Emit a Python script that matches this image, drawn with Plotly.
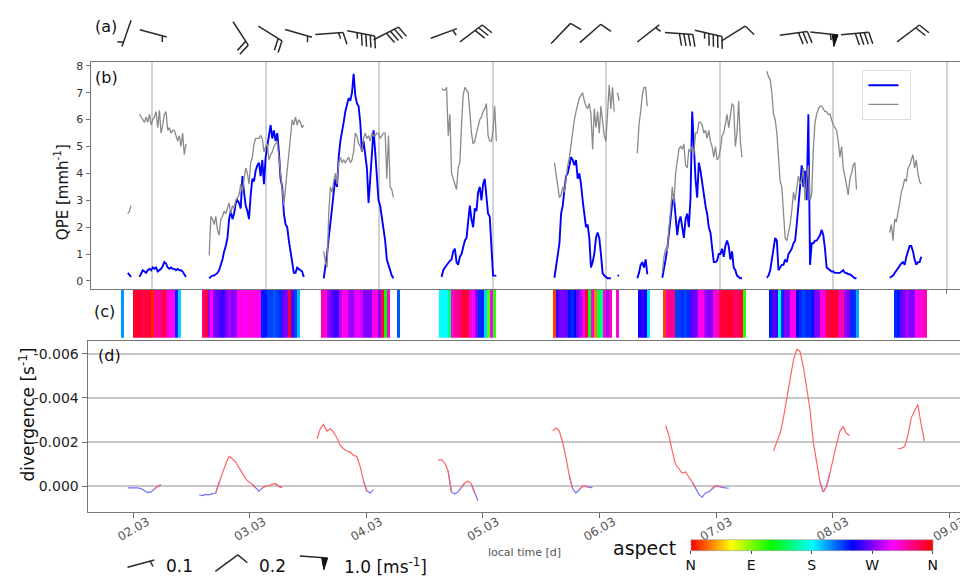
import math
import plotly.graph_objects as go

W, H = 968, 577
OX, OY = 8, 8   # the page body margin shifts the figure by 8 px


def px(X):
    return (X - OX) / W


def py(Y):
    return 1 - (Y - OY) / H


# ---------------- tick labels ----------------
day_ticks = [2, 3, 4, 5, 6, 7, 8, 9]
day_labels = ["02.03", "03.03", "04.03", "05.03", "06.03", "07.03", "08.03", "09.03"]

# ---------------- panel (b): QPE (blue) and reference (grey) ----------------
QPE_STEP = 0.01462  # days between samples
qpe_starts = [1.786, 1.889, 2.503, 3.512, 4.550, 5.544, 6.099, 6.274, 6.494, 7.415, 8.497]

qpe_1a = [0.3, 0.22, 0.15]
qpe_1b = [0.15, 0.3, 0.4, 0.35, 0.3, 0.4, 0.45, 0.4, 0.5, 0.45, 0.5, 0.35, 0.4, 0.45, 0.55,
          0.7, 0.65, 0.5, 0.45, 0.5, 0.45, 0.45, 0.4, 0.45, 0.4, 0.4, 0.35, 0.25, 0.15]
qpe_2 = [0.1, 0.15, 0.2, 0.2, 0.25, 0.3, 0.4, 0.6, 0.8, 1.1,
         1.3, 1.6, 2.3, 2.6, 2.3, 2.5, 2.9, 3.0, 2.9, 2.7,
         3.9, 3.3, 2.8, 2.6, 2.3, 3.2, 3.8, 3.7, 4.1, 4.3,
         4.4, 3.9, 4.5, 3.6, 4.6, 5.0, 5.4, 5.8, 5.3, 5.6,
         5.2, 5.5, 4.8, 3.8, 3.5, 2.5, 2.1, 2.0, 1.5, 1.0,
         0.7, 0.3, 0.3, 0.5, 0.45, 0.4, 0.35, 0.15]
qpe_3 = [0.1, 0.5, 1.0, 1.6, 2.3, 2.7, 3.3, 3.8, 3.5, 4.6,
         5.2, 5.5, 5.9, 6.3, 6.6, 6.8, 6.7, 7.0, 7.7, 6.9,
         6.6, 6.5, 5.9, 4.8, 5.2, 4.6, 4.2, 2.9, 3.8, 4.8,
         5.6, 4.8, 3.9, 3.0, 2.8, 2.4, 2.0, 1.5, 0.8, 0.6,
         0.4, 0.2, 0.1]
qpe_4 = [0.15, 0.4, 0.5, 0.6, 0.7, 0.75, 0.8, 1.1, 1.2, 0.7,
         0.6, 0.9, 1.0, 1.3, 1.5, 1.6, 2.2, 2.8, 2.3, 2.0,
         2.7, 2.6, 3.3, 3.5, 3.0, 3.6, 3.8, 3.1, 2.5, 2.4,
         1.4, 0.2, 0.2, 0.2]
qpe_5 = [0.12, 0.5, 0.9, 1.4, 2.5, 2.8, 3.4, 3.9, 4.0, 4.3,
         4.6, 4.5, 4.3, 4.5, 3.8, 4.0, 3.6, 3.0, 2.4, 2.0,
         2.1, 1.6, 0.5, 0.7, 1.0, 1.6, 1.8, 1.6, 1.0, 0.3,
         0.2, 0.15, 0.1, 0.1, 0.1]
qpe_5b = [0.2, 0.2]
qpe_6 = [0.1, 0.3, 0.6, 0.7, 0.5, 0.8, 0.25]
qpe_7 = [0.12, 0.4, 0.8, 1.2, 1.7, 2.3, 2.9, 3.1, 2.5, 1.7,
         2.2, 2.4, 2.0, 1.6, 2.3, 2.5, 2.0, 3.1, 6.3, 5.0,
         3.8, 3.1, 4.4, 4.1, 3.6, 3.3, 2.8, 2.5, 2.0, 1.8,
         1.2, 0.7, 0.7, 0.75, 1.0, 1.0, 1.2, 0.9, 1.3, 1.5,
         1.3, 0.8, 1.1, 0.5, 0.4, 0.2, 0.15, 0.1, 0.1]
qpe_8 = [0.12, 0.2, 0.4, 0.8, 1.2, 1.6, 1.5, 0.4, 0.5, 0.6,
         0.6, 0.8, 0.7, 1.0, 1.1, 1.2, 1.4, 1.5, 2.1, 3.0,
         3.5, 4.3, 3.5, 4.1, 3.0, 6.2, 0.6, 1.4, 1.4, 1.5,
         1.5, 1.6, 1.7, 1.9, 1.7, 1.2, 0.5, 0.45, 0.4, 0.35,
         0.35, 0.3, 0.3, 0.3, 0.3, 0.35, 0.4, 0.3, 0.3, 0.25,
         0.25, 0.2, 0.15, 0.1, 0.1]
qpe_9 = [0.12, 0.15, 0.2, 0.3, 0.4, 0.5, 0.6, 0.65, 0.7, 0.6,
         0.9, 1.1, 1.3, 1.3, 1.1, 0.8, 0.6, 0.7, 0.7, 0.9]

ref_1a = [2.5, 2.6, 2.8]
ref_1b = [6.2, 6.1, 6.0, 5.9, 6.1, 5.9, 6.2, 5.8, 6.0, 6.1, 6.3, 5.7, 6.35, 5.5, 5.8,
          6.2, 6.3, 5.6, 5.7, 5.5, 5.6, 5.6, 5.4, 5.2, 5.4, 5.0, 5.5, 4.7, 5.1]
ref_2 = [0.95, 2.4, 2.3, 2.1, 2.4, 1.9, 1.7, 2.3, 2.4, 2.6,
         2.5, 2.7, 2.9, 2.5, 2.8, 2.7, 3.0, 3.1, 3.2, 3.6,
         3.3, 3.8, 4.2, 4.0, 3.6, 4.4, 4.6, 5.1, 5.3, 5.3,
         5.3, 5.4, 5.3, 4.8, 5.0, 5.1, 4.5, 4.7, 4.8, 5.0,
         5.1, 5.2, 4.6, 3.9, 3.2, 2.8, 3.5, 4.2, 4.8, 5.5,
         6.0, 5.8, 6.1, 5.8, 6.0, 5.9, 5.7, 5.8]
ref_3 = [1.1, 0.7, 0.5, 2.5, 3.5, 3.3, 3.7, 4.0, 3.6, 4.4,
         4.6, 4.4, 4.5, 4.4, 4.5, 4.6, 4.4, 4.5, 4.8, 5.5,
         5.4, 5.1, 5.0, 4.8, 5.3, 5.5, 5.3, 5.4, 5.2, 5.5,
         5.4, 5.4, 5.5, 5.5, 5.3, 5.4, 5.5, 5.5, 3.8, 5.4,
         3.5, 3.4, 3.1]
ref_4 = [7.15, 7.1, 7.1, 7.2, 5.4, 6.2, 4.0, 3.8, 3.6, 3.4,
         4.2, 4.4, 5.8, 6.9, 7.2, 7.1, 7.0, 6.3, 5.5, 5.1,
         5.2, 5.5, 5.8, 6.0, 6.1, 6.3, 6.4, 6.6, 5.4, 5.2,
         5.2, 5.6, 6.5, 5.2]
ref_5 = [4.4, 3.9, 3.4, 3.1, 3.2, 3.5, 3.3, 3.9, 4.3, 4.6,
         5.1, 5.6, 6.0, 6.3, 6.6, 6.8, 6.9, 7.0, 6.7, 6.5,
         6.4, 6.6, 6.2, 4.9, 6.4, 5.7, 6.3, 5.5, 6.5, 6.0,
         5.4, 5.2, 6.3, 7.3, 6.4, 7.2, 6.3]
ref_5b = [7.0, 6.7]
ref_6 = [4.75, 5.8, 6.3, 6.9, 7.2, 7.2, 6.5]
ref_7 = [0.3, 0.9, 1.2, 1.1, 2.0, 2.6, 3.5, 2.9, 4.0, 4.4,
         4.9, 5.0, 4.9, 5.1, 4.3, 4.2, 4.9, 4.8, 5.0, 4.7,
         5.5, 5.5, 5.9, 5.9, 5.8, 5.5, 5.6, 5.3, 5.6, 5.2,
         5.0, 4.6, 5.0, 4.5, 4.6, 4.9, 5.4, 5.5, 5.9, 6.2,
         5.7, 6.2, 6.6, 6.5, 5.0, 5.5, 6.7, 5.2, 4.6]
ref_8 = [7.8, 7.6, 7.5, 7.0, 6.2, 6.0, 5.5, 4.7, 3.7, 3.5,
         2.7, 1.6, 1.5, 1.8, 2.1, 2.6, 3.3, 3.0, 3.4, 3.9,
         3.6, 3.8, 4.2, 3.0, 3.8, 4.3, 3.0, 3.2, 4.9, 5.9,
         6.2, 6.4, 6.5, 6.5, 6.4, 6.3, 6.3, 6.2, 6.2, 6.0,
         5.8, 5.7, 5.6, 5.2, 4.6, 5.0, 4.2, 3.9, 3.6, 3.2,
         3.8, 4.0, 4.3, 4.4, 3.4]
ref_9 = [1.8, 2.1, 1.5, 2.3, 2.2, 2.5, 2.9, 3.3, 3.5, 3.8,
         3.7, 4.2, 4.3, 4.5, 4.7, 4.2, 4.5, 4.0, 3.7, 3.6]

qpe_segments = [qpe_1a, qpe_1b, qpe_2, qpe_3, qpe_4, qpe_5, qpe_5b, qpe_6, qpe_7, qpe_8, qpe_9]
ref_segments = [ref_1a, ref_1b, ref_2, ref_3, ref_4, ref_5, ref_5b, ref_6, ref_7, ref_8, ref_9]

# ---------------- panel (c): aspect strip [deg] ----------------
ASP_STEP = 0.02632
asp_starts = [1.737, 1.840, 2.4456, 3.4982, 4.169, 4.5377, 5.5377, 6.0947, 6.2877, 6.5070, 7.4456, 8.5421]
asp_1 = [205]
asp_2 = [348, 348, 350, 340, 348, 348, 8, 325, 325, 330, 345, 315, 300, 300, 230, 190]
asp_3 = [330, 348, 275, 300, 270, 265, 255, 255, 270, 280, 270, 275, 305, 305, 300, 305, 310,
         305, 305, 300, 235, 235, 225, 225, 220, 225, 230, 265, 270, 348, 255, 225, 195]
asp_4 = [315, 310, 275, 265, 255, 255, 285, 305, 305, 280, 275, 295, 295, 290, 270, 270, 270,
         305, 305, 270, 345, 120, 310]
asp_5 = [220]
asp_6 = [180, 180, 180, 150, 310, 325, 325, 340, 346, 348, 310, 300, 270, 230, 230, 190, 100, 300, 110]
asp_7 = [15, 255, 268, 268, 265, 235, 230, 240, 265, 280, 305, 346, 130, 310, 30, 140, 150, 310, 280, 315]
asp_8 = [310]
asp_9 = [245, 250, 240, 185]
asp_10 = [15, 320, 330, 330, 225, 225, 230, 225, 230, 260, 265, 270, 305, 305, 280, 270, 270,
          310, 310, 346, 346, 348, 350, 346, 335, 340, 346, 110]
asp_11 = [235, 260, 255, 170, 230, 270, 270, 305, 305, 240, 230, 225, 230, 230, 235, 270, 270,
          310, 310, 342, 346, 348, 348, 320, 320, 275, 270, 230, 230, 200]
asp_12 = [230, 235, 265, 270, 280, 270, 270, 300, 310, 310, 315]
asp_segments = [asp_1, asp_2, asp_3, asp_4, asp_5, asp_6, asp_7, asp_8, asp_9, asp_10, asp_11, asp_12]

# ---------------- panel (d): divergence [1e-3 s-1] ----------------
DIV_STEP = 0.02849
div_starts = [1.951, 2.564, 3.575, 4.615, 5.598, 6.567, 7.493, 8.561]
div_1 = [0.07, 0.07, 0.06, 0.07, 0.1, 0.2, 0.28, 0.25, 0.13, 0.0, -0.07]
div_2 = [0.38, 0.42, 0.36, 0.38, 0.33, 0.3, -0.2, -0.6, -1.0, -1.35, -1.25, -1.1, -0.85,
         -0.6, -0.35, -0.2, -0.1, 0.08, 0.22, 0.08, -0.02, -0.02, -0.1, -0.12, 0.0, 0.05]
div_3 = [-2.15, -2.6, -2.8, -2.5, -2.6, -2.45, -2.2, -1.85, -1.7, -1.6, -1.55, -1.4, -1.35,
         -0.9, -0.25, 0.2, 0.3, 0.15]
div_4 = [-1.2, -1.2, -1.05, -0.7, 0.25, 0.35, 0.25, 0.05, -0.15, -0.24, -0.1, 0.3, 0.65]
div_5 = [-2.5, -2.65, -2.5, -2.0, -1.3, -0.5, 0.1, 0.3, 0.15, 0.0, 0.0, 0.05, 0.07]
div_6 = [-2.75, -2.3, -1.6, -1.0, -0.8, -0.6, -0.65, -0.45, -0.2, 0.05, 0.35, 0.5, 0.3,
         0.25, 0.1, -0.02, 0.0, 0.05, 0.07, 0.08]
div_7 = [-1.6, -2.0, -2.4, -3.1, -4.0, -4.8, -5.7, -6.2, -6.1, -5.4, -4.5, -3.5, -2.0,
         -1.0, -0.2, 0.25, 0.0, -0.6, -1.3, -1.9, -2.5, -2.7, -2.4, -2.3]
div_8 = [-1.7, -1.72, -1.8, -2.3, -3.1, -3.4, -3.7, -2.8, -2.05]
div_segments = [div_1, div_2, div_3, div_4, div_5, div_6, div_7, div_8]

# ---------------- panel (a): wind barbs ----------------
barb_time = [1.775, 2.01, 2.78, 3.04, 3.29, 3.56, 3.84, 4.06, 4.57, 4.81,
             5.60, 5.86, 6.37, 6.64, 6.90, 7.12, 7.65, 7.92, 8.19, 8.66]
barb_dir = [199, 105, 147, 122, 106, 86, 101, 63, 70, 53,
            44, 49, 52, 94, 103, 58, 82, 96, 85, 53]
barb_speed = [0.1, 0.1, 0.4, 0.4, 0.1, 0.3, 0.9, 0.8, 0.1, 0.6,
              0.2, 0.2, 0.1, 0.8, 0.9, 0.2, 0.6, 1.1, 0.8, 0.4]

key_speed = [0.1, 0.2, 1.0]
key_dir = [75, 54, 94]
key_labels = ["0.1", "0.2", "1.0 [ms<sup>-1</sup>]"]

# ---------------- layout geometry (reference pixels -> paper) ----------------
XB = [px(91), px(966)]
XB_RANGE = [1.459, 9.134]
XD = [px(88), px(967)]
XD_RANGE = [1.607, 9.120]
YA = [py(55), py(8)]
YB = [py(288), py(60)]
YC = [py(337), py(289)]
YD = [py(512), py(340)]


def build_series(starts, segs, step, scale=1.0):
    xs, ys = [], []
    for t0, vals in zip(starts, segs):
        for i, v in enumerate(vals):
            xs.append(t0 + i * step)
            ys.append(v * scale)
        xs.append(None)
        ys.append(None)
    return xs, ys


def barb_paths(cx, cy, sx, sy, direction, speed, L=28.0):
    FULL, HALF, SP, FW, SLANT = 12.0, 6.0, 4.5, 6.0, 3.0
    a = math.radians(direction)
    ux, uy = math.sin(a), math.cos(a)
    qx, qy = uy, -ux

    def pt(s, h):
        return (cx + (s * ux + h * qx) / sx, cy + (s * uy + h * qy) / sy)

    lines = [pt(-L / 2, 0), pt(L / 2, 0), None]
    flags = []
    n = int(round(speed / 0.1))
    nflag, rem = divmod(n, 10)
    nfull, nhalf = divmod(rem, 2)
    s = L / 2
    for _ in range(nflag):
        flags.append([pt(s, 0), pt(s - FW / 2, FULL), pt(s - FW, 0)])
        s -= FW + SP * 0.4
    if nflag == 0 and nfull == 0:
        s -= SP
    for _ in range(nfull):
        lines += [pt(s, 0), pt(s + SLANT, FULL), None]
        s -= SP
    for _ in range(nhalf):
        lines += [pt(s, 0), pt(s + SLANT / 2, HALF), None]
    return lines, flags


def split_xy(pts):
    xs, ys = [], []
    for p in pts:
        if p is None:
            xs.append(None)
            ys.append(None)
        else:
            xs.append(p[0])
            ys.append(p[1])
    return xs, ys


fig = go.Figure()

# ---- panel (b)
rx, ry = build_series(qpe_starts, ref_segments, QPE_STEP)
qx_, qy_ = build_series(qpe_starts, qpe_segments, QPE_STEP)
fig.add_trace(go.Scatter(x=rx, y=ry, mode="lines", line=dict(color="#8a8a8a", width=1.3),
                         name=" ", legendrank=2, xaxis="x", yaxis="y5", hoverinfo="skip"))
fig.add_trace(go.Scatter(x=qx_, y=qy_, mode="lines", line=dict(color="#0000ff", width=1.9),
                         name=" ", legendrank=1, xaxis="x", yaxis="y", hoverinfo="skip"))

# ---- panel (c)
ax_, av_ = [], []
for t0, vals in zip(asp_starts, asp_segments):
    for i, v in enumerate(vals):
        ax_.append(t0 + i * ASP_STEP)
        av_.append(v)
hsv = [[0.0, "rgb(255,0,0)"], [1 / 6, "rgb(255,255,0)"], [2 / 6, "rgb(0,255,0)"],
       [0.5, "rgb(0,255,255)"], [4 / 6, "rgb(0,0,255)"], [5 / 6, "rgb(255,0,255)"],
       [1.0, "rgb(255,0,0)"]]
fig.add_trace(go.Bar(
    x=ax_, y=[1] * len(ax_), width=ASP_STEP, xaxis="x3", yaxis="y3", showlegend=False,
    hoverinfo="skip",
    marker=dict(color=av_, colorscale=hsv, cmin=0, cmax=360, line=dict(width=0),
                colorbar=dict(orientation="h", x=px(815), xanchor="center",
                              y=py(557), yanchor="middle",
                              len=242, lenmode="pixels", thickness=11, thicknessmode="pixels",
                              xpad=0, ypad=0, outlinewidth=0.6, outlinecolor="#999",
                              tickmode="array", tickvals=[0, 90, 180, 270, 360],
                              ticktext=["N", "E", "S", "W", "N"],
                              ticks="outside", ticklen=3, tickcolor="#444",
                              tickfont=dict(size=14, color="#111")))))

# ---- panel (d)
dx, dy = build_series(div_starts, div_segments, DIV_STEP, 1e-3)
red_y, blue_y = [], []
for i, v in enumerate(dy):
    if v is None:
        red_y.append(None)
        blue_y.append(None)
        continue
    nxt = dy[i + 1] if i + 1 < len(dy) else None
    prv = dy[i - 1] if i > 0 else None
    red_y.append(v if (v <= 0 or (nxt is not None and nxt <= 0) or (prv is not None and prv <= 0)) else None)
    blue_y.append(v if (v >= 0 or (nxt is not None and nxt >= 0) or (prv is not None and prv >= 0)) else None)
fig.add_trace(go.Scatter(x=dx, y=blue_y, mode="lines", line=dict(color="#7272ff", width=1.2),
                         xaxis="x4", yaxis="y4", showlegend=False, hoverinfo="skip"))
fig.add_trace(go.Scatter(x=dx, y=red_y, mode="lines", line=dict(color="#ff6464", width=1.2),
                         xaxis="x4", yaxis="y4", showlegend=False, hoverinfo="skip"))

# ---- panel (a) barbs
sx_a = (XB[1] - XB[0]) * W / (XB_RANGE[1] - XB_RANGE[0])
sy_a = (YA[1] - YA[0]) * H / 1.0
lines_all, flags_all = [], []
for t, d, s in zip(barb_time, barb_dir, barb_speed):
    l, f = barb_paths(t, 0.5, sx_a, sy_a, d, s)
    lines_all += l
    for tri in f:
        flags_all += tri + [None]
lx, ly = split_xy(lines_all)
fig.add_trace(go.Scatter(x=lx, y=ly, mode="lines", line=dict(color="#2a2a2a", width=1.5),
                         xaxis="x2", yaxis="y2", showlegend=False, hoverinfo="skip"))
fx, fy = split_xy(flags_all)
fig.add_trace(go.Scatter(x=fx, y=fy, mode="lines", fill="toself", fillcolor="#111",
                         line=dict(color="#111", width=1), xaxis="x2", yaxis="y2",
                         showlegend=False, hoverinfo="skip"))

# ---- barb key (bottom left), on a full-figure helper axis
key_pos = [(px(141.5), py(563.5)), (px(227.5), py(563)), (px(315), py(557))]
klines, kflags = [], []
for (cx, cy), d, s in zip(key_pos, key_dir, key_speed):
    l, f = barb_paths(cx, cy, W, H, d, s)
    klines += l
    for tri in f:
        kflags += tri + [None]
kx, ky = split_xy(klines)
fig.add_trace(go.Scatter(x=kx, y=ky, mode="lines", line=dict(color="#2a2a2a", width=1.5),
                         xaxis="x6", yaxis="y6", showlegend=False, hoverinfo="skip"))
kfx, kfy = split_xy(kflags)
fig.add_trace(go.Scatter(x=kfx, y=kfy, mode="lines", fill="toself", fillcolor="#111",
                         line=dict(color="#111", width=1), xaxis="x6", yaxis="y6",
                         showlegend=False, hoverinfo="skip"))

FONT = "DejaVu Sans"
frame = dict(showline=True, linecolor="#777", linewidth=1.3, mirror=True, zeroline=False)


def note(text, X, Y, size, color="#111", xanchor="center", angle=0):
    return dict(text=text, x=px(X), y=py(Y), xref="paper", yref="paper", xanchor=xanchor,
                yanchor="middle", textangle=angle, showarrow=False,
                font=dict(size=size, color=color))


ann = []
for txt, X, Y in [("(a)", 93, 25), ("(b)", 93, 76), ("(c)", 92, 311), ("(d)", 96, 355)]:
    ann.append(note(txt, X, Y, 16, xanchor="left"))
ann.append(note("QPE [mmh<sup>-1</sup>]", 62, 191, 15, angle=-90))
ann.append(note("divergence [s<sup>-1</sup>]", 27, 414, 17, angle=-90))
ann.append(note("local time [d]", 527, 552, 11, color="#555"))
ann.append(note("aspect", 681, 548, 19, xanchor="right"))
for txt, X in zip(key_labels, [165, 258, 343]):
    ann.append(note(txt, X, 566, 17, xanchor="left"))

fig.update_layout(
    width=W, height=H, margin=dict(l=0, r=0, t=0, b=0),
    paper_bgcolor="white", plot_bgcolor="rgba(0,0,0,0)",
    font=dict(family=FONT, color="#222"),
    bargap=0,
    xaxis=dict(domain=XB, range=XB_RANGE, anchor="y", tickmode="array", tickvals=day_ticks,
               showticklabels=False, ticks="outside", ticklen=4, tickcolor="#777",
               showgrid=True, gridcolor="#d2d2d2", gridwidth=1.5, **frame),
    yaxis=dict(domain=YB, range=[-0.3, 8.15], anchor="x", tickmode="array",
               tickvals=[0, 1, 2, 3, 4, 5, 6, 7, 8], ticks="outside", ticklen=4, tickcolor="#777",
               tickfont=dict(size=11, color="#333"), showgrid=False, **frame),
    yaxis5=dict(overlaying="y", side="right", anchor="x", range=[-0.3, 8.15], tickmode="linear",
                tick0=0.667, dtick=1.111, ticks="outside", ticklen=4, tickcolor="#777",
                showticklabels=False, showgrid=False, zeroline=False, showline=False),
    xaxis2=dict(domain=XB, range=XB_RANGE, anchor="y2", visible=False),
    yaxis2=dict(domain=YA, range=[0, 1], anchor="x2", visible=False),
    xaxis3=dict(domain=XB, range=XB_RANGE, anchor="y3", visible=False),
    yaxis3=dict(domain=YC, range=[0, 1], anchor="x3", visible=False),
    xaxis4=dict(domain=XD, range=XD_RANGE, anchor="y4", tickmode="array", tickvals=day_ticks,
                ticktext=day_labels, tickangle=-30, ticklabelshift=14, ticklabelstandoff=-8,
                ticks="outside", ticklen=5,
                tickcolor="#666", tickfont=dict(size=12, color="#555"), showgrid=False, **frame),
    yaxis4=dict(domain=YD, range=[0.00117, -0.00658], anchor="x4", tickmode="array",
                tickvals=[-0.006, -0.004, -0.002, 0.0],
                ticktext=["-0.006", "-0.004", "-0.002", "0.000"], ticks="outside", ticklen=5,
                tickcolor="#666", tickfont=dict(size=14, color="#222"),
                showgrid=True, gridcolor="#c8c8c8", gridwidth=1.5, **frame),
    xaxis6=dict(domain=[0, 1], range=[0, 1], anchor="y6", visible=False),
    yaxis6=dict(domain=[0, 1], range=[0, 1], anchor="x6", visible=False),
    legend=dict(x=px(866), y=py(68), xanchor="left", yanchor="top", bgcolor="white",
                bordercolor="#dddddd", borderwidth=1, font=dict(size=6), itemwidth=30,
                tracegroupgap=0, traceorder="normal"),
    annotations=ann,
)

fig.write_html("out.html")
